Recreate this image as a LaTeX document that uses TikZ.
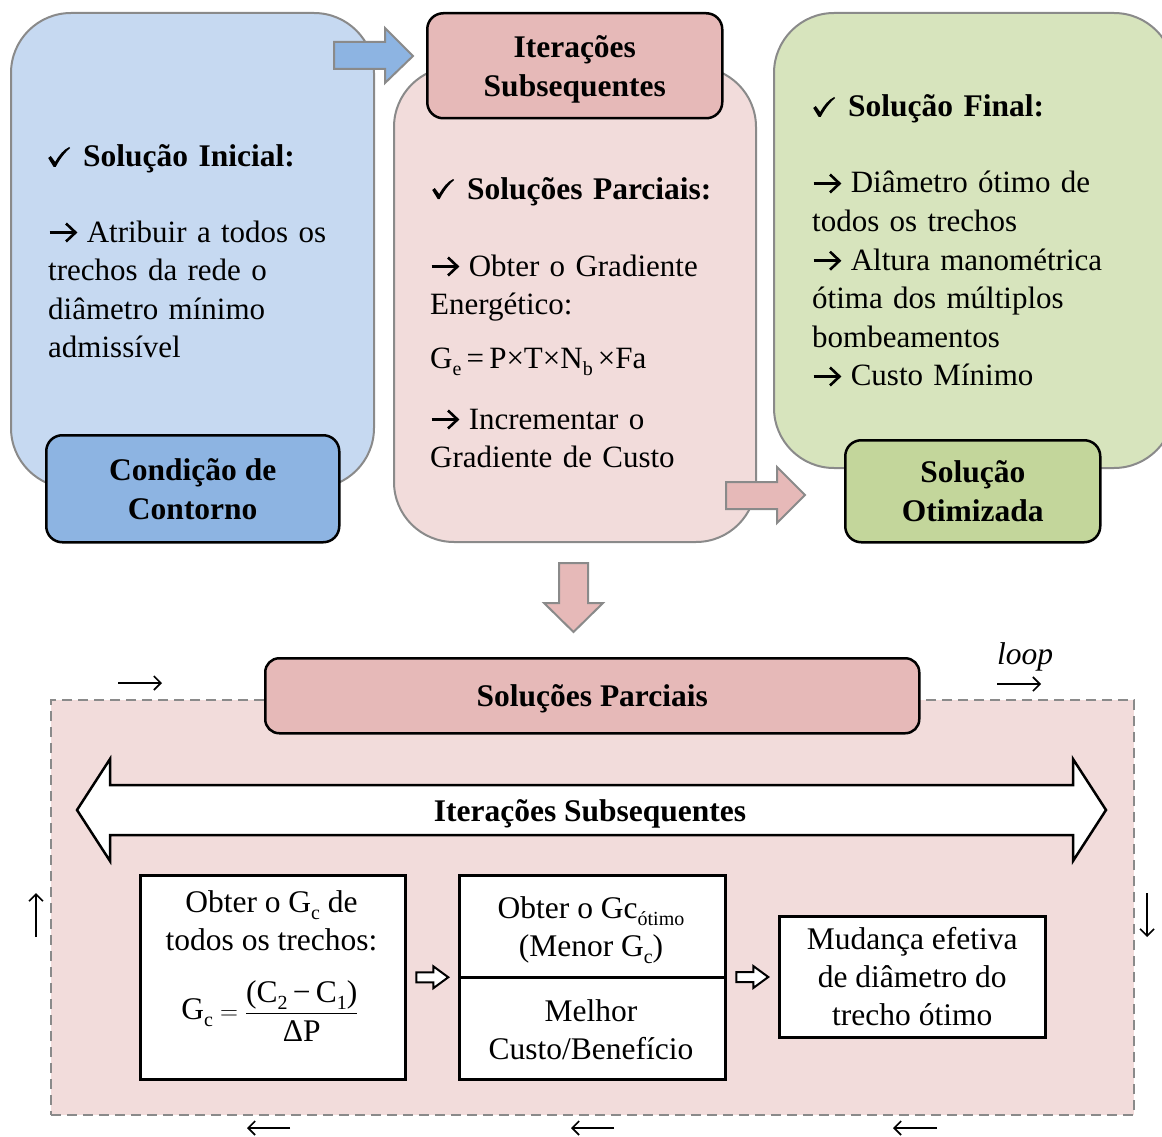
\documentclass[tikz,border=0pt]{standalone}
\usepackage{fontspec}
\setmainfont{Liberation Serif}
\usetikzlibrary{arrows.meta,calc}

\definecolor{blueL}{HTML}{C6D9F1}
\definecolor{blueM}{HTML}{8DB4E2}
\definecolor{pinkL}{HTML}{F2DCDB}
\definecolor{pinkM}{HTML}{E6B9B8}
\definecolor{greenL}{HTML}{D7E4BD}
\definecolor{greenM}{HTML}{C3D69B}
\definecolor{edgegray}{HTML}{8A8A8A}

% check mark and bold bullet arrow used in the lists
\newcommand\chk{\tikz[baseline=0pt]{\fill (0pt,9pt) -- (2.6pt,11pt) -- (7pt,5pt) .. controls (11pt,12pt) and (15pt,17pt) .. (21pt,20pt)
  -- (22pt,19pt) .. controls (16pt,14pt) and (11pt,7pt) .. (7.5pt,0pt) -- (5.5pt,0pt) -- cycle;}}
\newcommand\arr{\tikz[baseline=0pt]{\draw[line width=2.6pt] (0pt,9.5pt) -- (25pt,9.5pt);
  \draw[line width=2.6pt, miter limit=10] (16.5pt,18.5pt) -- (26pt,9.5pt) -- (16.5pt,0.5pt);}\hspace{10pt}}
% lowered small index, as in G_e
\newcommand\lowidx[1]{\raisebox{-7pt}{\fontsize{20}{20}\selectfont #1}}

\tikzset{
  bigbox/.style={draw=edgegray, line width=2pt, rounded corners=60pt, anchor=north west, inner sep=0pt},
  headbox/.style={draw=black, line width=2.5pt, rounded corners=16pt, anchor=north west, inner sep=0pt,
    align=center, font=\bfseries\fontsize{31.5}{39}\selectfont},
  headtext/.style={align=center, inner sep=0pt, font=\bfseries\fontsize{31.5}{39}\selectfont},
  body/.style={anchor=base west, align=left, inner sep=0pt, text width=360pt,
    font=\fontsize{31}{38.6}\selectfont},
  blockarrow/.style={draw=edgegray, line width=2pt, line join=miter},
  stepbox/.style={draw=black, line width=2.5pt, fill=white, anchor=north west, inner sep=0pt,
    align=center, font=\fontsize{31.5}{38}\selectfont},
  smalltxt/.style={align=center, inner sep=0pt, font=\fontsize{31.5}{38}\selectfont},
  thinarrow/.style={line width=1.6pt, -{Straight Barb[length=7pt, width=14pt]}},
  pics/openarrow/.style={code={
    \draw[line width=2pt, fill=white, line join=miter]
      (-16,-5) -- (1,-5) -- (1,-11) -- (16,0) -- (1,11) -- (1,5) -- (-16,5) -- cycle;}}
}

\begin{document}
\begin{tikzpicture}[x=1pt, y=-1pt]
\useasboundingbox (0,0) rectangle (1162,1137);
\clip (0,0) rectangle (1162,1137);

% ---------- upper stage: three panels ----------
\node[bigbox, fill=blueL, minimum width=363pt, minimum height=475pt] (inicial) at (10,12) {};
\node[bigbox, fill=pinkL, minimum width=362pt, minimum height=475pt] (parcial) at (393,66) {};
\node[bigbox, fill=greenL, minimum width=400pt, minimum height=455pt] (final) at (773,12) {};

% block arrows between the panels
\draw[blockarrow, fill=blueM] (334,42) -- (385,42) -- (385,28) -- (413,56) -- (385,83) -- (385,69) -- (334,69) -- cycle;
\draw[blockarrow, fill=pinkM] (726,482) -- (777,482) -- (777,467) -- (805,495) -- (777,523) -- (777,509) -- (726,509) -- cycle;
\draw[blockarrow, fill=pinkM] (559,563) -- (588,563) -- (588,603) -- (603,603) -- (573.5,632) -- (544,603) -- (559,603) -- cycle;

% panel titles
\node[headbox, fill=pinkM, minimum width=295pt, minimum height=105pt] (iter) at (426,12) {};
\node[headtext] (iterT) at ($(iter.center)+(0,4)$) {Iterações\\Subsequentes};
\node[headbox, fill=blueM, minimum width=293pt, minimum height=107pt] (contorno) at (45,434) {Condição de\\Contorno};
\node[headbox, fill=greenM, minimum width=255pt, minimum height=102pt] (otim) at (844,439) {Solução\\Otimizada};

% panel texts
\node[body] (inicialT) at (48,167) {\chk\hspace{13pt}\textbf{\fontsize{31.5}{38}\selectfont Solução Inicial:}};
\node[body] (inicialB) at (48,242) {\arr Atribuir a todos os\\trechos da rede o\\diâmetro mínimo\\admissível};

\node[body] (parcialT) at (432,199) {\chk\hspace{13pt}\textbf{\fontsize{31.5}{38}\selectfont Soluções Parciais:}};
\node[body] (parcialB) at (430,276) {\arr Obter o Gradiente\\Energético:};
\node[body] (ge) at (430,368) {G\lowidx{e}\,=\,P×T×N\lowidx{b}\,×Fa};
\node[body] (parcialC) at (430,429) {\arr Incrementar o\\Gradiente de Custo};

\node[body] (finalT) at (813,117) {\chk\hspace{13pt}\textbf{\fontsize{31.5}{38}\selectfont Solução Final:}};
\node[body] (finalB) at (812,193) {\arr Diâmetro ótimo de\\todos os trechos\\\arr Altura manométrica\\ótima dos múltiplos\\bombeamentos\\\arr Custo Mínimo};

% ---------- lower stage: the iteration loop ----------
\node[draw=edgegray, dash pattern=on 10pt off 6pt, line width=2pt, fill=pinkL, anchor=north west,
  inner sep=0pt, minimum width=1083pt, minimum height=415pt] (laco) at (50,699) {};
\node[headbox, fill=pinkM, rounded corners=14pt, minimum width=654pt, minimum height=75pt] (solp) at (264,657) {};
\node[headtext] (solpT) at ($(solp.center)+(0,3)$) {Soluções Parciais};

\draw[line width=2.5pt, fill=white, line join=miter]
  (77,810) -- (110,759) -- (110,785) -- (1073,785) -- (1073,759) -- (1106,810)
  -- (1073,861) -- (1073,835) -- (110,835) -- (110,861) -- cycle;
\node[headtext] (iterS) at (590,814) {Iterações Subsequentes};

\node[stepbox, minimum width=265pt, minimum height=204pt] (gc) at (139,874) {};
\node[smalltxt] (gcT) at (271.5,921) {Obter o G\lowidx{c} de\\todos os trechos:};
\node[smalltxt] (gcF) at (270,1011) {$\displaystyle \mbox{G\lowidx{c}} = \frac{\mbox{\rule[-8pt]{0pt}{8pt}(C\lowidx{2}\,−\,C\lowidx{1})}}{\mbox{\rule{0pt}{27pt}ΔP}}$};

\node[stepbox, minimum width=266pt, minimum height=204pt] (otimo) at (458,874) {};
\draw[line width=2.5pt] (otimo.west) -- (otimo.east);
\node[smalltxt] (otimoT) at (591,930) {Obter o Gc\lowidx{ótimo}\\(Menor G\lowidx{c})};
\node[smalltxt] (otimoB) at (591,1030) {Melhor\\Custo/Benefício};

\node[stepbox, minimum width=266pt, minimum height=121pt] (mud) at (778,915) {Mudança efetiva\\de diâmetro do\\trecho ótimo};

\pic at ($(gc.east)!0.5!(otimo.west)$) {openarrow};
\pic at ($(otimo.east)!0.5!(mud.west)$) {openarrow};

% direction marks around the loop
\node[font=\itshape\fontsize{31.5}{38}\selectfont, inner sep=0pt] (loop) at (1025,657) {loop};
\draw[thinarrow] (118,683) -- (162,683);
\draw[thinarrow] (997,684) -- (1041,684);
\draw[thinarrow] (1147,893) -- (1147,937);
\draw[thinarrow] (36,937) -- (36,893);
\draw[thinarrow] (290,1128) -- (247,1128);
\draw[thinarrow] (614,1128) -- (571,1128);
\draw[thinarrow] (937,1128) -- (893,1128);
\end{tikzpicture}
\end{document}
